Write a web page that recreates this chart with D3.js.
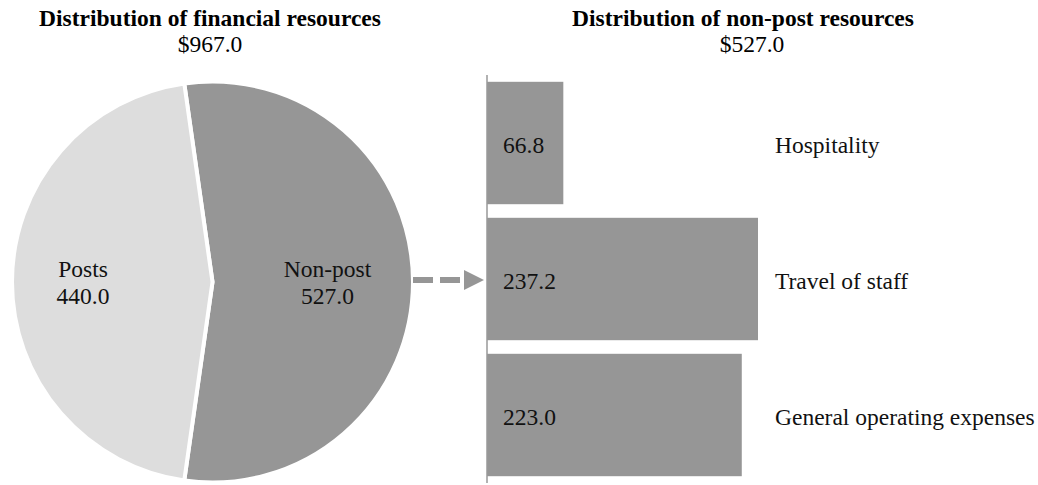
<!DOCTYPE html>
<html>
<head>
<meta charset="utf-8">
<script src="https://cdn.jsdelivr.net/npm/d3@7"></script>
<style>
  html, body { margin: 0; padding: 0; background: #fff; }
  svg { display: block; }
  svg text { font-family: 'Liberation Serif', 'Times New Roman', Times, serif; }
</style>
</head>
<body>
<svg id="chart" width="1038" height="485"></svg>
<script>
// Financial resources split between posts and non-post items
const pieCategories = ["Non-post", "Posts"];
const pieValues = [527.0, 440.0];
const pieTotalLabel = "$967.0";

// Breakdown of the non-post resources
const barCategories = ["Hospitality", "Travel of staff", "General operating expenses"];
const barValues = [66.8, 237.2, 223.0];
const barTotalLabel = "$527.0";

const svg = d3.select("#chart");
const fmt = d3.format(".1f");
const serif = "'Liberation Serif', 'Times New Roman', Times, serif";
const fs = 23.5;

const lightGrey = "#dddddd";
const darkGrey = "#969696";

// ---- Titles ----
function title(xc, text, total, totalX) {
  svg.append("text").attr("x", xc).attr("y", 26).attr("text-anchor", "middle")
    .attr("font-family", serif).attr("font-size", fs).attr("font-weight", "bold").text(text);
  svg.append("text").attr("x", totalX).attr("y", 52).attr("text-anchor", "middle")
    .attr("font-family", serif).attr("font-size", fs).text(total);
}
title(210, "Distribution of financial resources", pieTotalLabel, 210);
title(743, "Distribution of non-post resources", barTotalLabel, 752);

// ---- Pie: the non-post slice is centred on the right-hand side ----
const cx = 212.5, cy = 282, radius = 200.5;
const total = d3.sum(pieValues);
const offset = Math.PI / 2 - Math.PI * pieValues[0] / total;
const pie = d3.pie().sort(null).startAngle(offset).endAngle(offset + 2 * Math.PI);
const arcs = pie(pieValues);
const arc = d3.arc().innerRadius(0).outerRadius(radius);
const pieColor = d3.scaleOrdinal().domain(pieCategories).range([darkGrey, lightGrey]);

const pg = svg.append("g").attr("transform", `translate(${cx},${cy})`);
pg.selectAll("path").data(arcs).join("path")
  .attr("d", arc)
  .attr("fill", (d, i) => pieColor(pieCategories[i]))
  .attr("stroke", "#fff").attr("stroke-width", 4).attr("stroke-linejoin", "miter");

const labelPos = [115, -129.5];
arcs.forEach((d, i) => {
  const t = pg.append("text").attr("text-anchor", "middle")
    .attr("font-family", serif).attr("font-size", fs).attr("fill", "#111");
  t.append("tspan").attr("x", labelPos[i]).attr("y", -5).text(pieCategories[i]);
  t.append("tspan").attr("x", labelPos[i]).attr("y", 22).text(fmt(pieValues[i]));
});

// ---- Dashed connector arrow ----
const arrowY = 280;
svg.append("line").attr("x1", cx + radius).attr("x2", 463).attr("y1", arrowY).attr("y2", arrowY)
  .attr("stroke", darkGrey).attr("stroke-width", 6).attr("stroke-dasharray", "20,7");
svg.append("path")
  .attr("d", d3.line()([[464, arrowY - 10], [484, arrowY], [464, arrowY + 10]]))
  .attr("fill", darkGrey);

// ---- Bars ----
const x = d3.scaleLinear().domain([0, 237.2]).range([487, 758]);
const y = d3.scaleBand().domain(barCategories).range([75, 483]).paddingInner(0.1).paddingOuter(0.05);

svg.selectAll("rect.bar").data(barValues).join("rect").attr("class", "bar")
  .attr("x", x(0))
  .attr("y", (d, i) => y(barCategories[i]))
  .attr("width", d => x(d) - x(0))
  .attr("height", y.bandwidth())
  .attr("fill", darkGrey);

svg.selectAll("text.val").data(barValues).join("text").attr("class", "val")
  .attr("x", 503)
  .attr("y", (d, i) => y(barCategories[i]) + y.bandwidth() / 2 + 10)
  .attr("font-family", serif).attr("font-size", fs).attr("fill", "#111")
  .text(d => fmt(d));

svg.selectAll("text.cat").data(barCategories).join("text").attr("class", "cat")
  .attr("x", 775)
  .attr("y", d => y(d) + y.bandwidth() / 2 + 10)
  .attr("font-family", serif).attr("font-size", fs).attr("fill", "#111")
  .text(d => d);

// Vertical axis line along the bar baseline
svg.append("line").attr("x1", x(0)).attr("x2", x(0)).attr("y1", 75).attr("y2", 483)
  .attr("stroke", "#999").attr("stroke-width", 1.5);
</script>
</body>
</html>
